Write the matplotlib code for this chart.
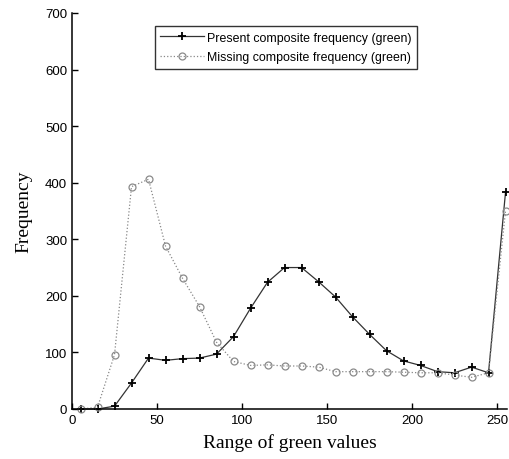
import matplotlib
matplotlib.use("Agg")
import matplotlib.pyplot as plt

# bin centres of the green channel histogram
green_bins = [5, 15, 25, 35, 45, 55, 65, 75, 85, 95, 105, 115, 125,
              135, 145, 155, 165, 175, 185, 195, 205, 215, 225, 235, 245, 255]

present_freq = [0, 0, 5, 46, 90, 86, 89, 90, 97, 128, 178, 224, 250,
                250, 225, 198, 163, 132, 103, 85, 77, 66, 64, 74, 64, 383]

missing_freq = [0, 3, 96, 393, 406, 288, 231, 181, 118, 84, 77, 78, 76,
                76, 74, 66, 66, 66, 66, 65, 64, 64, 60, 56, 64, 350]

x_ticks = [0, 50, 100, 150, 200, 250]
y_ticks = [0, 100, 200, 300, 400, 500, 600, 700]

fig = plt.figure(figsize=(5.09, 4.60), dpi=100)
ax = fig.add_axes([0.1415, 0.1087, 0.855, 0.861])

ax.plot(green_bins, present_freq, color="#333333", lw=0.9, ls="-",
        marker="+", ms=6, mew=1.3, mec="black", clip_on=False,
        label="Present composite frequency (green)")
ax.plot(green_bins, missing_freq, color="#888888", lw=0.9, ls=":",
        marker="o", ms=5, mfc="none", mec="#8a8a8a", mew=0.9, clip_on=False,
        label="Missing composite frequency (green)")

ax.set_xlim(0, 256)
ax.set_ylim(0, 700)
ax.set_xticks(x_ticks)
ax.set_yticks(y_ticks)
ax.tick_params(direction="in", length=4, labelsize=9.5, width=1)
for lbl in ax.get_xticklabels() + ax.get_yticklabels():
    lbl.set_family("Liberation Sans")

for side in ("top", "right"):
    ax.spines[side].set_visible(False)
for side in ("left", "bottom"):
    ax.spines[side].set_linewidth(1.1)

ax.set_xlabel("Range of green values", family="Liberation Serif", fontsize=14, labelpad=5)
ax.set_ylabel("Frequency", family="Liberation Serif", fontsize=14, labelpad=9)

leg = ax.legend(loc="upper left", bbox_to_anchor=(0.19, 0.967),
                prop={"family": "Liberation Sans", "size": 8.9},
                frameon=True, fancybox=False, edgecolor="black",
                handlelength=3.5, borderpad=0.45, labelspacing=0.6,
                handletextpad=0.3, borderaxespad=0.0)
leg.get_frame().set_linewidth(1.0)

fig.savefig("out.png", dpi=100)
